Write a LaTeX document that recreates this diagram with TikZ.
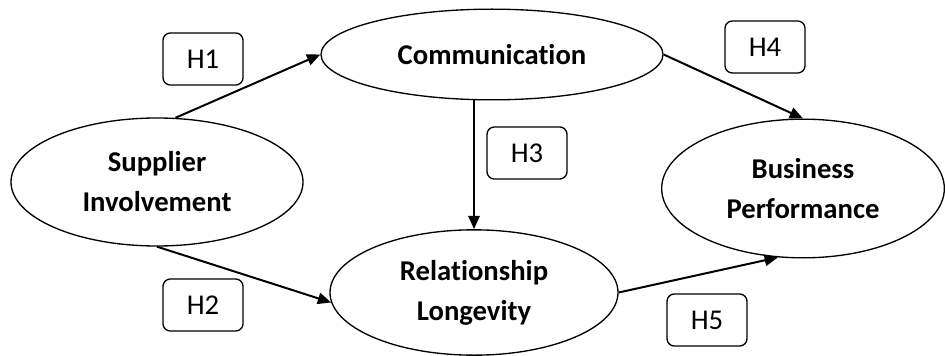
\documentclass[tikz,border=0pt]{standalone}
\usepackage{fontspec}
\setmainfont{Carlito}[Ligatures={NoCommon}]
\usetikzlibrary{shapes.geometric,arrows.meta}
\tikzset{construct/.style={draw,ellipse,line width=1pt,inner sep=0pt,
                           align=center,font=\bfseries\fontsize{21.5}{30}\selectfont}}
\tikzset{hyp/.style={draw,rounded corners=5.5pt,line width=1pt,
                     minimum width=60pt,minimum height=39pt,
                     font=\fontsize{21.5}{26}\selectfont}}

\begin{document}
\begin{tikzpicture}[x=0.75pt,y=-0.75pt,>={Triangle[length=10pt,width=8.5pt]}]
    \useasboundingbox (0,0) rectangle (945,356);

    % constructs
    \node[construct,minimum width=219pt,minimum height=96pt] (sup) at (157,182) {Supplier\\Involvement};
    \node[construct,minimum width=256.5pt,minimum height=68pt] (com) at (492,54.5) {Communication};
    \node[construct,minimum width=216pt,minimum height=94pt] (rel) at (474,292.5) {Relationship\\Longevity};
    \node[construct,minimum width=212pt,minimum height=104pt] (bus) at (803,188.5) {Business\\Performance};

    % hypotheses
    \node[hyp] (h1) at (203,59) {H1};
    \node[hyp] (h2) at (203,305) {H2};
    \node[hyp] (h3) at (527,153) {H3};
    \node[hyp] (h4) at (765,47) {H4};
    \node[hyp] (h5) at (707,320) {H5};

    \draw[->,line width=1.5pt] (sup.74) -- (com.west);
    \draw[->,line width=1.5pt] (sup.south) -- (rel.184);
    \draw[->,line width=1.5pt] (rel.north |- com.south) -- (rel.north);
    \draw[->,line width=1.5pt] (com.east) -- (bus.north);
    \draw[->,line width=1.5pt] (rel.east) -- (bus.250);

\end{tikzpicture}
\end{document}
